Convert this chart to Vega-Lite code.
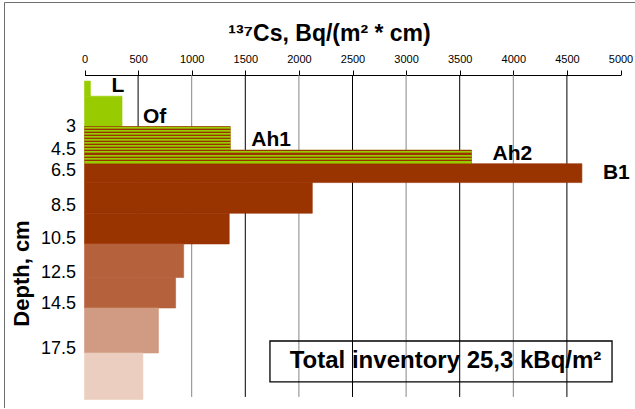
{
  "$schema": "https://vega.github.io/schema/vega-lite/v6.json",
  "width": 631,
  "height": 406,
  "autosize": "none",
  "padding": {"left": 4, "top": 2, "right": 0, "bottom": 0},
  "background": "white",
  "config": {"view": {"stroke": "#6e6e6e", "strokeWidth": 1}, "font": "Liberation Sans"},
  "data": {"values": [
    {"horizon": "L", "layer": 1, "top": 0, "bottom": 1.0, "cs": 55},
    {"horizon": "Of", "layer": 2, "top": 1.0, "bottom": 3.0, "cs": 350},
    {"horizon": "Ah1", "layer": 3, "top": 3.0, "bottom": 4.55, "cs": 1360},
    {"horizon": "Ah2", "layer": 4, "top": 4.55, "bottom": 5.85, "cs": 3610},
    {"horizon": "B1", "layer": 5, "top": 5.85, "bottom": 7.2, "cs": 4640},
    {"horizon": "", "layer": 6, "top": 7.2, "bottom": 9.0, "cs": 2125},
    {"horizon": "", "layer": 7, "top": 9.0, "bottom": 10.85, "cs": 1350},
    {"horizon": "", "layer": 8, "top": 10.85, "bottom": 12.85, "cs": 925},
    {"horizon": "", "layer": 9, "top": 12.85, "bottom": 14.8, "cs": 850},
    {"horizon": "", "layer": 10, "top": 14.8, "bottom": 17.8, "cs": 690},
    {"horizon": "", "layer": 11, "top": 17.8, "bottom": 20.9, "cs": 545}
  ]},
  "encoding": {
    "x": {"type": "quantitative", "scale": {"domain": [0, 5000], "range": [80.5, 616.5], "nice": false, "zero": false},
      "axis": {"orient": "top", "offset": -73, "values": [0, 500, 1000, 1500, 2000, 2500, 3000, 3500, 4000, 4500, 5000], "format": "d", "grid": false,
        "domainColor": "#000000", "domainWidth": 1, "tickColor": "#000000", "tickSize": 5, "labelFontSize": 11, "labelColor": "#000000", "labelPadding": 6, "labelFlush": false,
        "title": "¹³⁷Cs, Bq/(m² * cm)", "titleFontSize": 23, "titleFontWeight": "bold", "titleColor": "#000000", "titleX": 325, "titleY": -35, "titleAlign": "center", "titleBaseline": "alphabetic"}},
    "y": {"type": "quantitative", "scale": {"domain": [-0.4, 3, 4.5, 6.5, 8.5, 10.5, 12.5, 14.5, 17.5, 20.9], "range": [73, 124.5, 147.5, 168.5, 203, 236, 270, 301.5, 346.5, 397.5], "nice": false, "zero": false},
      "axis": {"orient": "left", "offset": -80.5, "values": [3, 4.5, 6.5, 8.5, 10.5, 12.5, 14.5, 17.5], "format": ".1~f", "domain": false, "ticks": false, "tickSize": 0, "grid": false,
        "labelFontSize": 18, "labelColor": "#000000", "labelPadding": 9, "labelFlush": false, "labelOverlap": false,
        "title": "Depth, cm", "titleFontSize": 22, "titleFontWeight": "bold", "titleColor": "#000000", "titleAngle": -90, "titleX": -56, "titleY": 271, "titleAlign": "center", "titleBaseline": "alphabetic"}}
  },
  "layer": [
    {
      "data": {"values": [{"v": 500}, {"v": 1000}, {"v": 1500}, {"v": 2000}, {"v": 2500}, {"v": 3000}, {"v": 3500}, {"v": 4000}, {"v": 4500}]},
      "mark": {"type": "rule", "strokeWidth": 1},
      "encoding": {
        "x": {"field": "v"},
        "y": {"datum": -0.4},
        "y2": {"datum": 20.73},
        "color": {"condition": {"test": "datum.v % 1000 === 0", "value": "#868686"}, "value": "#000000"}
      }
    },
    {
      "mark": {"type": "rect", "strokeWidth": 0.6},
      "encoding": {
        "x": {"field": "cs"},
        "x2": {"datum": 0},
        "y": {"field": "top"},
        "y2": {"field": "bottom"},
        "color": {"field": "layer", "type": "ordinal", "legend": null,
          "scale": {"domain": [1, 2, 3, 4, 5, 6, 7, 8, 9, 10, 11], "range": ["#99cc00", "#99cc00", "#996600", "#996600", "#993300", "#993300", "#993300", "#b5613c", "#b5613c", "#d19a82", "#ebcec0"]}},
        "stroke": {"field": "layer", "type": "ordinal", "legend": null,
          "scale": {"domain": [1, 2, 3, 4, 5, 6, 7, 8, 9, 10, 11], "range": ["#99cc00", "#99cc00", "#996600", "#996600", "#993300", "#993300", "#993300", "#b5613c", "#b5613c", "#d19a82", "#ebcec0"]}}
      }
    },
    {
      "transform": [{"filter": "datum.horizon === 'Ah1'"}],
      "mark": {"type": "rect", "fill": {"gradient": "linear", "x1": 0, "y1": 0, "x2": 0, "y2": 1, "stops": [
        {"offset": 0, "color": "#993300"}, {"offset": 0.042, "color": "#993300"}, {"offset": 0.042, "color": "#99cc00"}, {"offset": 0.083, "color": "#99cc00"}, {"offset": 0.083, "color": "#999900"}, {"offset": 0.125, "color": "#999900"},
        {"offset": 0.125, "color": "#993300"}, {"offset": 0.167, "color": "#993300"}, {"offset": 0.167, "color": "#99cc00"}, {"offset": 0.208, "color": "#99cc00"}, {"offset": 0.208, "color": "#999900"}, {"offset": 0.25, "color": "#999900"},
        {"offset": 0.25, "color": "#993300"}, {"offset": 0.292, "color": "#993300"}, {"offset": 0.292, "color": "#99cc00"}, {"offset": 0.333, "color": "#99cc00"}, {"offset": 0.333, "color": "#999900"}, {"offset": 0.375, "color": "#999900"},
        {"offset": 0.375, "color": "#993300"}, {"offset": 0.417, "color": "#993300"}, {"offset": 0.417, "color": "#99cc00"}, {"offset": 0.458, "color": "#99cc00"}, {"offset": 0.458, "color": "#999900"}, {"offset": 0.5, "color": "#999900"},
        {"offset": 0.5, "color": "#993300"}, {"offset": 0.542, "color": "#993300"}, {"offset": 0.542, "color": "#99cc00"}, {"offset": 0.583, "color": "#99cc00"}, {"offset": 0.583, "color": "#999900"}, {"offset": 0.625, "color": "#999900"},
        {"offset": 0.625, "color": "#993300"}, {"offset": 0.667, "color": "#993300"}, {"offset": 0.667, "color": "#99cc00"}, {"offset": 0.708, "color": "#99cc00"}, {"offset": 0.708, "color": "#999900"}, {"offset": 0.75, "color": "#999900"},
        {"offset": 0.75, "color": "#993300"}, {"offset": 0.792, "color": "#993300"}, {"offset": 0.792, "color": "#99cc00"}, {"offset": 0.833, "color": "#99cc00"}, {"offset": 0.833, "color": "#999900"}, {"offset": 0.875, "color": "#999900"},
        {"offset": 0.875, "color": "#993300"}, {"offset": 0.917, "color": "#993300"}, {"offset": 0.917, "color": "#99cc00"}, {"offset": 0.958, "color": "#99cc00"}, {"offset": 0.958, "color": "#999900"}, {"offset": 1, "color": "#999900"}
      ]}},
      "encoding": {
        "x": {"field": "cs"},
        "x2": {"datum": 0},
        "y": {"field": "top"},
        "y2": {"field": "bottom"}
      }
    },
    {
      "transform": [{"filter": "datum.horizon === 'Ah2'"}],
      "mark": {"type": "rect", "fill": {"gradient": "linear", "x1": 0, "y1": 0, "x2": 0, "y2": 1, "stops": [
        {"offset": 0, "color": "#993300"}, {"offset": 0.083, "color": "#993300"}, {"offset": 0.083, "color": "#99cc00"}, {"offset": 0.167, "color": "#99cc00"}, {"offset": 0.167, "color": "#999900"}, {"offset": 0.25, "color": "#999900"},
        {"offset": 0.25, "color": "#993300"}, {"offset": 0.333, "color": "#993300"}, {"offset": 0.333, "color": "#99cc00"}, {"offset": 0.417, "color": "#99cc00"}, {"offset": 0.417, "color": "#999900"}, {"offset": 0.5, "color": "#999900"},
        {"offset": 0.5, "color": "#993300"}, {"offset": 0.583, "color": "#993300"}, {"offset": 0.583, "color": "#99cc00"}, {"offset": 0.667, "color": "#99cc00"}, {"offset": 0.667, "color": "#999900"}, {"offset": 0.75, "color": "#999900"},
        {"offset": 0.75, "color": "#993300"}, {"offset": 0.833, "color": "#993300"}, {"offset": 0.833, "color": "#99cc00"}, {"offset": 0.917, "color": "#99cc00"}, {"offset": 0.917, "color": "#999900"}, {"offset": 1, "color": "#999900"}
      ]}},
      "encoding": {
        "x": {"field": "cs"},
        "x2": {"datum": 0},
        "y": {"field": "top"},
        "y2": {"field": "bottom"}
      }
    },
    {
      "transform": [{"filter": "datum.horizon !== ''"}],
      "mark": {"type": "text", "align": "left", "baseline": "alphabetic", "dx": 21, "dy": -4, "fontSize": 21, "fontWeight": "bold", "color": "#000000"},
      "encoding": {
        "x": {"field": "cs"},
        "y": {"field": "bottom"},
        "text": {"field": "horizon"}
      }
    },
    {
      "data": {"values": [{"inventory": "25,3"}]},
      "mark": {"type": "rect", "filled": false, "stroke": "#000000", "strokeWidth": 1.3},
      "encoding": {
        "x": {"datum": 1730},
        "x2": {"datum": 4921},
        "y": {"datum": 17.0},
        "y2": {"datum": 19.73}
      }
    },
    {
      "data": {"values": [{"inventory": "25,3"}]},
      "mark": {"type": "text", "align": "center", "baseline": "middle", "fontSize": 24, "fontWeight": "bold", "color": "#000000"},
      "encoding": {
        "x": {"datum": 3368},
        "y": {"datum": 18.33},
        "text": {"value": "Total inventory 25,3 kBq/m²"}
      }
    }
  ]
}
